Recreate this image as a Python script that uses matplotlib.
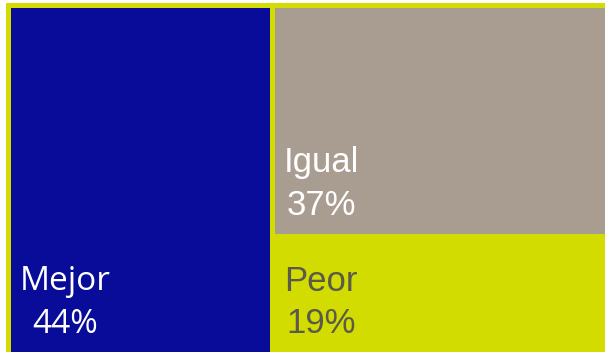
import matplotlib.pyplot as plt
from matplotlib.patches import Rectangle

labels = ["Mejor", "Igual", "Peor"]
shares = [44, 37, 19]
colors = ["#080c98", "#a89d90", "#d2dc00"]
text_colors = ["white", "white", "#5a5a4c"]
fonts = ["Open Sans", "Liberation Sans", "Liberation Sans"]
sizes = [24, 25, 25]

border = "#d2dc00"

fig = plt.figure(figsize=(6.05, 3.52), dpi=100)
ax = fig.add_axes([6 / 605, 0, 599 / 605, 349 / 352])
ax.set_facecolor(border)

# treemap area in axes pixel units (slightly past right/bottom edges)
x0, x1 = 1.5, 602.0
y0, y1 = -3.0, 347.5

# slice-and-dice: first item takes full height, rest stacked on the right
total = sum(shares)
w0 = (x1 - x0) * shares[0] / total
rects = [(x0, y0, w0, y1 - y0)]
rest = sum(shares[1:])
y_top = y1
for s in shares[1:]:
    h = (y1 - y0) * s / rest
    rects.append((x0 + w0, y_top - h, x1 - x0 - w0, h))
    y_top -= h

for (x, y, w, h), lab, val, col, tcol, fam, fs in zip(rects, labels, shares, colors,
                                                       text_colors, fonts, sizes):
    ax.add_patch(Rectangle((x, y), w, h, facecolor=col, edgecolor=border, linewidth=3.6))
    ax.annotate(f"{lab}\n{val}%", (x, y), xytext=(9, 15.5), textcoords="offset points",
                ha="left", va="baseline", multialignment="center", annotation_clip=False,
                fontsize=fs, color=tcol, family=fam, linespacing=1.36 * 25 / fs)

ax.set_xlim(0, 599)
ax.set_ylim(0, 349)
ax.axis("off")
ax.patch.set_visible(True)

fig.savefig("out.png", dpi=100, facecolor="white")
